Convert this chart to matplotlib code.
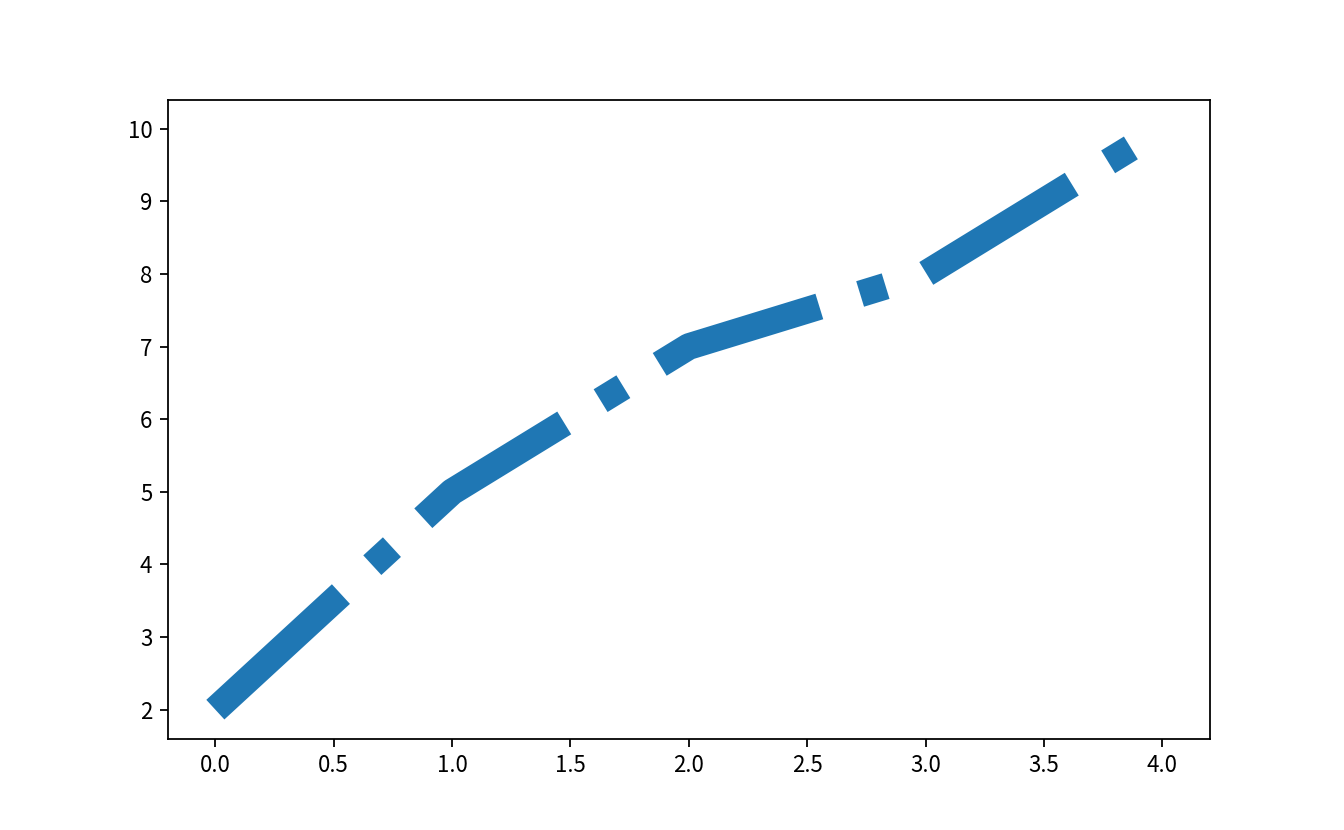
import matplotlib
matplotlib.use('Agg')
import matplotlib.pyplot as plt

plt.rcParams['font.family'] = ['Noto Sans CJK SC', 'DejaVu Sans']
plt.rcParams['axes.unicode_minus'] = False

x = [0, 1, 2, 3, 4]
y = [2, 5, 7, 8, 10]

fig = plt.figure(figsize=(8.4, 5.1875), dpi=160)
plt.plot(x, y, linestyle='-.', linewidth=12, color='#1f77b4')
plt.savefig('out.png', dpi=160)
